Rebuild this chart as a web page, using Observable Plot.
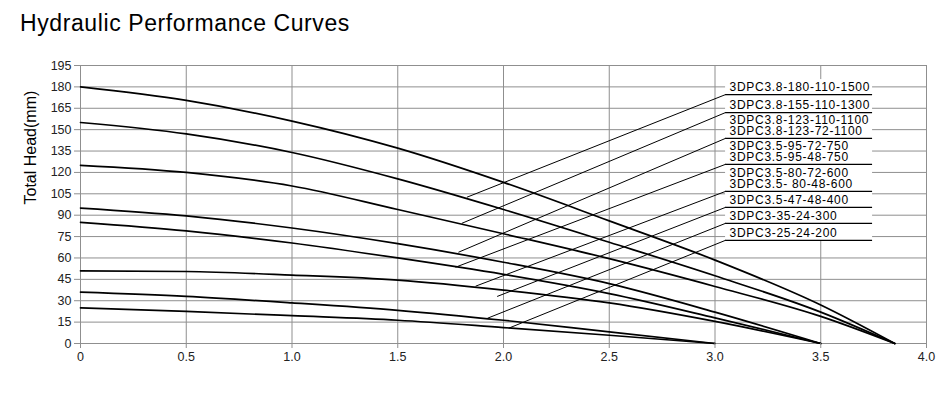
<!DOCTYPE html>
<html>
<head>
<meta charset="utf-8">
<script src="https://cdn.jsdelivr.net/npm/d3@7"></script>
<script src="https://cdn.jsdelivr.net/npm/@observablehq/plot@0.6"></script>
<style>
  html, body { margin: 0; padding: 0; background: #fff; }
  #wrap { position: relative; width: 950px; height: 398px; overflow: hidden; font-family: "Liberation Sans", Arial, sans-serif; }
  #title { position: absolute; left: 20px; top: 0; line-height: 47px; font-size: 23px; letter-spacing: 0.6px; color: #000; white-space: nowrap; }
  #chart { position: absolute; left: 0; top: 45px; }
  #chart .lbl, #chart .lbl text { letter-spacing: 0.7px; }
</style>
</head>
<body>
<div id="wrap">
  <div id="title">Hydraulic Performance Curves</div>
  <div id="chart"></div>
</div>
<script>
// ---- data ----
const flowLong  = [0, 0.5, 1.0, 1.5, 2.0, 2.5, 3.0, 3.5, 3.85];
const flowMid   = [0, 0.5, 1.0, 1.5, 2.0, 2.5, 3.0, 3.5];
const flowShort = [0, 0.5, 1.0, 1.5, 2.0, 2.5, 3.0];

const head180 = [180, 170.5, 156, 137, 113, 86, 58.5, 27, 0];
const head155 = [155, 147, 134, 115.5, 94, 71, 47.5, 22, 0];
const head123 = [125, 120, 110.5, 94, 77, 59.5, 40, 19, 0];
const head95  = [95, 89.5, 81, 70, 57, 42, 22, 0];
const head80  = [85, 79, 70.5, 60, 48.5, 35, 18, 0];
const head47  = [51, 50.5, 48, 44.5, 37.5, 28.5, 15.5, 0];
const head35  = [36, 33, 28.5, 23.3, 16.3, 8.1, 0];
const head25  = [25, 22.5, 19.5, 16.3, 11.2, 5.8, 0];

const seriesNames = ["180", "155", "123", "95", "80", "47", "35", "25"];
const seriesFlows = [flowLong, flowLong, flowLong, flowMid, flowMid, flowMid, flowShort, flowShort];
const seriesHeads = [head180, head155, head123, head95, head80, head47, head35, head25];

const modelLabels = [
  "3DPC3.8-180-110-1500",
  "3DPC3.8-155-110-1300",
  "3DPC3.8-123-110-1100",
  "3DPC3.8-123-72-1100",
  "3DPC3.5-95-72-750",
  "3DPC3.5-95-48-750",
  "3DPC3.5-80-72-600",
  "3DPC3.5- 80-48-600",
  "3DPC3.5-47-48-400",
  "3DPC3-35-24-300",
  "3DPC3-25-24-200"
];
const labelGroup = [0, 1, 2, 2, 3, 3, 4, 4, 5, 6, 7];

// leader lines: from the label underline (right) to a point in the plot (left)
const leaderStartFlow = [3.05, 3.05, 3.05, 3.05, 3.05, 3.05, 3.05, 3.05];
const underlineEndFlow = [3.745, 3.745, 3.745, 3.745, 3.745, 3.745, 3.745, 3.745];
const leaderStartHead = [174.6, 162.0, 143.9, 125.7, 106.7, 95.5, 84.3, 72.4];
const leaderEndFlow   = [1.827, 1.803, 1.787, 1.773, 1.868, 1.97, 1.924, 2.024];
const leaderEndHead   = [102.6, 84.3, 64.0, 53.5, 40.2, 33.0, 17.7, 10.7];

const xTicks = [0, 0.5, 1.0, 1.5, 2.0, 2.5, 3.0, 3.5, 4.0];
const yTicks = [0, 15, 30, 45, 60, 75, 90, 105, 120, 135, 150, 165, 180, 195];
const yLabel = "Total Head(mm)";

// ---- build tables ----
const curveRows = seriesNames.flatMap((name, s) =>
  seriesFlows[s].map((f, i) => ({series: name, flow: f, head: seriesHeads[s][i]})));

const leaders = leaderStartHead.map((h, i) => ({
  x1: leaderStartFlow[i], y1: h, x2: leaderEndFlow[i], y2: leaderEndHead[i], xr: underlineEndFlow[i]
}));

const groupSize = d3.rollup(labelGroup, v => v.length, d => d);
const labelRows = modelLabels.map((t, i) => {
  const g = labelGroup[i];
  const first = groupSize.get(g) === 2 && i === labelGroup.indexOf(g);
  return {text: t, x: leaderStartFlow[g], y: leaderStartHead[g], first};
});
const lastLines = labelRows.filter(d => !d.first);
const firstLines = labelRows.filter(d => d.first);

const box = [{
  x1: d3.min(leaders, d => d.x1), x2: d3.max(leaders, d => d.xr),
  y1: d3.min(leaders, d => d.y1), y2: d3.max(leaders, d => d.y1)
}];

const gridColor = "#8f8f8f";
const font = "'Liberation Sans', Arial, sans-serif";

const chart = Plot.plot({
  width: 950,
  height: 353,
  marginLeft: 80,
  marginRight: 24,
  marginTop: 20,
  marginBottom: 55,
  x: {domain: [0, 4]},
  y: {domain: [0, 195]},
  style: {fontFamily: font, fontSize: "12.5px", color: "#222", background: "#fff", overflow: "visible"},
  marks: [
    Plot.ruleY(yTicks, {stroke: gridColor, strokeWidth: 1}),
    Plot.ruleX(xTicks, {stroke: gridColor, strokeWidth: 1, y1: 0, y2: 195}),
    // white background behind the model labels
    Plot.rect(box, {x1: "x1", x2: "x2", y1: "y1", y2: "y2", fill: "white", insetTop: -15, insetBottom: -1}),
    Plot.line(curveRows, {x: "flow", y: "head", z: "series", stroke: "#000", strokeWidth: 1.7, curve: "monotone-x"}),
    Plot.link(leaders, {x1: "x1", y1: "y1", x2: "x2", y2: "y2", stroke: "#000", strokeWidth: 1}),
    Plot.ruleY(leaders, {y: "y1", x1: "x1", x2: "xr", stroke: "#000", strokeWidth: 1.2}),
    Plot.text(lastLines, {x: "x", y: "y", text: "text", dx: 4, dy: -7, textAnchor: "start",
      fill: "#000", fontSize: 12, className: "lbl"}),
    Plot.text(firstLines, {x: "x", y: "y", text: "text", dx: 4, dy: -18, textAnchor: "start",
      fill: "#000", fontSize: 12, className: "lbl"}),
    Plot.axisY(yTicks, {tickSize: 6, tickPadding: 3, stroke: gridColor, fill: "#222", label: null, fontSize: 12.5}),
    Plot.axisX(xTicks, {tickSize: 5, tickPadding: 4, stroke: gridColor, fill: "#222", label: null, fontSize: 12.5,
      tickFormat: d => d === 0 ? "0" : d.toFixed(1)}),
    Plot.text([yLabel], {frameAnchor: "left", rotate: -90, dx: -50, fontSize: 16, fill: "#000"})
  ]
});
document.getElementById("chart").appendChild(chart);
</script>
</body>
</html>
